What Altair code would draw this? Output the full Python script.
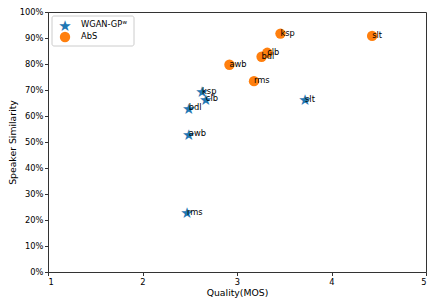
import altair as alt
import pandas as pd

speakers = ["awb", "bdl", "clb", "ksp", "rms", "slt"]
wgan_mos = [2.49, 2.49, 2.67, 2.63, 2.47, 3.72]
wgan_sim = [0.530, 0.629, 0.664, 0.693, 0.228, 0.662]
abs_mos = [2.92, 3.26, 3.32, 3.46, 3.18, 4.43]
abs_sim = [0.797, 0.828, 0.843, 0.917, 0.734, 0.908]
series_names = ["WGAN-GP", "AbS"]
series_sup = "w"
series_colors = ["#1f77b4", "#ff7f0e"]
x_ticks = [1, 2, 3, 4, 5]
y_ticks = [0, 0.1, 0.2, 0.3, 0.4, 0.5, 0.6, 0.7, 0.8, 0.9, 1.0]

wgan = pd.DataFrame({"speaker": speakers, "mos": wgan_mos, "sim": wgan_sim})
absd = pd.DataFrame({"speaker": speakers, "mos": abs_mos, "sim": abs_sim})
one = pd.DataFrame({"k": [0]})

FONT = "DejaVu Sans"

xenc = alt.X("mos:Q", title="Quality(MOS)",
             scale=alt.Scale(domain=[1, 5], nice=False),
             axis=alt.Axis(values=x_ticks, format="d", grid=False, labelOverlap=False,
                           tickSize=3.5, labelFontSize=8.3, titleFontSize=9.3,
                           titlePadding=3, labelPadding=1.5))
yenc = alt.Y("sim:Q", title="Speaker Similarity",
             scale=alt.Scale(domain=[0, 1], nice=False),
             axis=alt.Axis(values=y_ticks, format=".0%", grid=False, labelOverlap=False,
                           tickSize=3.5, labelFontSize=8.3, titleFontSize=9.3,
                           titlePadding=2, labelPadding=1.5))

# stars drawn as text glyphs (symbol marks avoided)
stars = alt.Chart(wgan).mark_text(text="★", fontSize=15, font=FONT, color=series_colors[0],
                                  align="center", baseline="middle", dy=0.5).encode(x=xenc, y=yenc)
circles = alt.Chart(absd).mark_arc(theta=0, theta2=6.2832, radius=5.2, color=series_colors[1]).encode(
    x=xenc, y=yenc)

lab_w = alt.Chart(wgan).mark_text(align="left", baseline="alphabetic", fontSize=8.3,
                                  font=FONT, color="black", dy=2).encode(
    x=xenc, y=yenc, text="speaker:N")
lab_a = alt.Chart(absd).mark_text(align="left", baseline="alphabetic", fontSize=8.3,
                                  font=FONT, color="black", dy=2).encode(
    x=xenc, y=yenc, text="speaker:N")

# legend (drawn by hand)
leg_box = alt.Chart(one).mark_rect(
    fill="white", stroke="#cccccc", strokeWidth=1, cornerRadius=2).encode(
    x=alt.value(4), x2=alt.value(86), y=alt.value(4), y2=alt.value(34))
leg_star = alt.Chart(one).mark_text(
    text="★", fontSize=15, font=FONT, color=series_colors[0], align="center",
    baseline="middle", dy=0.5).encode(x=alt.value(17), y=alt.value(13))
leg_circ = alt.Chart(one).mark_arc(
    theta=0, theta2=6.2832, radius=5.2, color=series_colors[1]).encode(
    x=alt.value(17), y=alt.value(25))
leg_t1 = alt.Chart(one).mark_text(
    text=series_names[0], align="left", baseline="middle", fontSize=8.3, font=FONT,
    color="black").encode(x=alt.value(33), y=alt.value(13))
leg_sup = alt.Chart(one).mark_text(
    text=series_sup, align="left", baseline="middle", fontSize=5.5, font=FONT,
    color="black").encode(x=alt.value(74.5), y=alt.value(10))
leg_t2 = alt.Chart(one).mark_text(
    text=series_names[1], align="left", baseline="middle", fontSize=8.3, font=FONT,
    color="black").encode(x=alt.value(33), y=alt.value(25))

chart = alt.layer(stars, circles, lab_w, lab_a, leg_box, leg_star, leg_circ,
                  leg_t1, leg_sup, leg_t2).properties(
    width=378, height=260,
    padding={"left": 40, "top": 4, "right": 2, "bottom": 26},
    autosize=alt.AutoSizeParams(type="none"),
).configure(font=FONT).configure_view(
    stroke="#333333", strokeWidth=1
).configure_axis(
    domainColor="#333333", tickColor="#333333", labelColor="black", titleColor="black",
    labelFont=FONT, titleFont=FONT, titleFontWeight="normal", labelOverlap=False
)

chart.save("out.html", embed_options={"renderer": "svg", "actions": False})
